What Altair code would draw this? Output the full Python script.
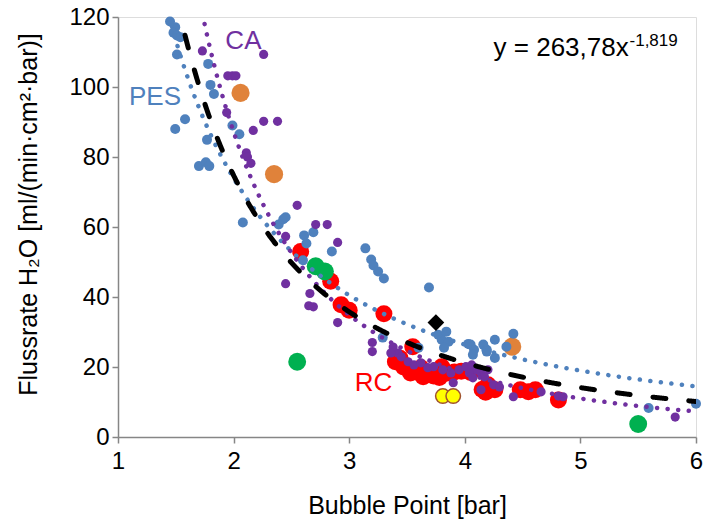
import altair as alt
import pandas as pd

# ---------------- data ----------------
pes_x = [1.45, 1.495, 1.48, 1.51, 1.54, 1.51, 1.78, 1.80, 1.83, 1.58, 1.495, 1.99, 2.05, 1.77,
         1.70, 1.76, 1.79, 2.08, 2.39, 2.43, 2.45, 2.61, 2.69, 2.63, 2.85, 3.14, 3.19, 3.21,
         3.25, 3.30, 3.69, 3.29, 3.60, 3.77, 3.84, 3.80, 3.86, 3.82, 4.03, 4.08, 4.16, 4.19,
         4.05, 4.07, 4.26, 4.42, 4.36, 4.26, 4.19, 5.59, 6.00, 2.60]
pes_y = [118.7, 117.1, 115.5, 114.7, 114.2, 109.3, 106.6, 100.6, 98.0, 90.8, 88.0, 89.0, 86.5, 84.9,
         77.4, 78.5, 77.4, 61.3, 60.7, 62.2, 62.8, 57.6, 58.5, 55.3, 53.0, 53.9, 50.7, 49.0,
         47.3, 45.3, 42.7, 28.4, 25.5, 29.2, 30.1, 27.8, 27.2, 25.5, 26.6, 24.9, 26.4, 24.9,
         26.4, 23.5, 27.8, 29.5, 25.8, 22.6, 24.4, 8.3, 9.5, 50.5]

ca_x = [1.73, 2.26, 1.95, 1.99, 2.02, 1.94, 2.26, 2.38, 2.17, 2.11, 2.12, 2.15, 2.55, 2.71,
        2.81, 2.45, 2.90, 2.45, 2.66, 2.65, 2.69, 2.90, 3.20, 3.20, 3.38, 3.42, 3.36, 3.45,
        3.51, 3.56, 3.62, 3.68, 3.73, 3.81, 3.88, 3.95, 4.01, 4.08, 4.14, 4.20, 4.17, 4.06,
        4.10, 4.04, 4.07, 4.14, 4.25, 4.30, 4.42, 4.66, 4.81, 4.85, 5.82, 3.90]
ca_y = [110.3, 109.3, 103.2, 103.2, 103.2, 92.7, 90.2, 90.2, 87.6, 81.2, 80.0, 78.2, 66.2, 60.7,
        60.7, 57.3, 55.6, 43.8, 41.0, 37.5, 37.2, 32.7, 27.0, 24.4, 25.7, 24.0, 24.0, 22.9,
        21.5, 20.6, 21.2, 19.8, 20.1, 19.2, 18.3, 19.2, 20.1, 19.8, 18.3, 19.2, 17.2, 20.6,
        19.2, 18.3, 16.9, 13.5, 14.9, 14.3, 11.5, 12.9, 11.7, 11.5, 5.7, 15.5]

rc_x = [2.58, 2.84, 2.93, 3.00, 3.30, 3.55, 3.40, 3.47, 3.53, 3.58, 3.62, 3.69, 3.73, 3.80,
        3.85, 3.91, 3.97, 4.05, 4.15, 4.20, 4.26, 4.18, 4.48, 4.55, 4.61, 4.81, 3.44, 3.64,
        3.78]
rc_y = [53.0, 44.5, 37.8, 36.2, 35.2, 25.8, 21.5, 20.0, 18.3, 18.6, 19.8, 18.3, 17.4, 20.1,
        18.3, 18.6, 18.8, 18.4, 13.6, 14.9, 13.5, 12.8, 13.5, 12.9, 13.5, 10.6, 22.5, 17.2,
        17.0]

orange_x = [2.06, 2.35, 4.41]
orange_y = [98.3, 75.1, 25.8]
green_x = [2.71, 2.79, 2.55, 5.50]
green_y = [48.8, 47.3, 21.5, 3.7]
yellow_x = [3.81, 3.90]
yellow_y = [11.7, 11.7]
diamond_x = [3.75]
diamond_y = [32.7]

# power trend lines y = a * x^b
all_fit = {"a": 263.78, "b": -1.819, "start": 1.58}
pes_fit = {"a": 207.0, "b": -1.485, "start": 1.40}
ca_fit = {"a": 417.0, "b": -2.258, "start": 1.70}

equation_main = "y = 263,78x"
equation_exp = "-1,819"

labels = ["CA", "PES", "RC"]
label_x = [2.085, 1.32, 3.21]
label_y = [113.2, 97.1, 15.5]

BLUE = "#4F81BD"
PURPLE = "#7030A0"
RED = "#FF0000"
ORANGE = "#E0823A"
GREEN = "#00B050"
FONT = "Liberation Sans"

x_axis = alt.Axis(values=[1, 2, 3, 4, 5, 6], format="d", grid=False, labelFlush=False,
                  title="Bubble Point [bar]", titleFontSize=25, titleFontWeight="normal",
                  titleFont=FONT, titleColor="#000", titleX=289, titleY=68,
                  titleBaseline="middle", titleAlign="center",
                  labelFont=FONT, labelFontSize=24, labelColor="#000", labelPadding=6,
                  tickSize=6, tickColor="#868686", tickWidth=1.5,
                  domainColor="#868686", domainWidth=1.5)
y_axis = alt.Axis(values=[0, 20, 40, 60, 80, 100, 120], format="d", grid=False,
                  labelFlush=False,
                  title="Flussrate H₂O [ml/(min·cm²·bar)]", titleFontSize=25,
                  titleFontWeight="normal", titleFont=FONT, titleColor="#000",
                  titleX=-90, titleY=197, titleAngle=-90, titleBaseline="middle",
                  titleAlign="center",
                  labelFont=FONT, labelFontSize=24, labelColor="#000", labelPadding=3,
                  tickSize=6, tickColor="#868686", tickWidth=1.5,
                  domainColor="#868686", domainWidth=1.5)

X = alt.X("x:Q", scale=alt.Scale(domain=[1, 6], nice=False, zero=False), axis=x_axis)
Y = alt.Y("y:Q", scale=alt.Scale(domain=[0, 120], nice=False), axis=y_axis)


def pts(xs, ys):
    return pd.DataFrame({"x": xs, "y": ys})


def points(xs, ys, color, size, shape="circle", stroke=None):
    kw = dict(shape=shape, size=size, filled=True, fill=color, opacity=1)
    if stroke:
        kw.update(stroke=stroke, strokeWidth=1.5)
    else:
        kw.update(strokeWidth=0)
    return alt.Chart(pts(xs, ys)).mark_point(**kw).encode(x=X, y=Y)


def trend(fit, color, width, dash):
    return (alt.Chart(alt.sequence(fit["start"], 6.0001, 0.005, as_="x"))
            .transform_calculate(y=f"{fit['a']} * pow(datum.x, {fit['b']})")
            .transform_filter("datum.y <= 121")
            .mark_line(color=color, strokeWidth=width, strokeDash=dash,
                       strokeCap="round", clip=True)
            .encode(x=X, y=Y, order="x:Q"))


layers = [
    points(rc_x, rc_y, RED, 290),
    points(orange_x, orange_y, ORANGE, 330),
    points(green_x, green_y, GREEN, 320),
    points(yellow_x, yellow_y, "#FFFF00", 210, stroke="#A0522D"),
    points(pes_x, pes_y, BLUE, 100),
    points(ca_x, ca_y, PURPLE, 84),
    points(diamond_x, diamond_y, "#000000", 280, shape="diamond"),
    trend(pes_fit, BLUE, 4.5, [0.1, 10.5]),
    trend(ca_fit, PURPLE, 4.5, [0.1, 10.5]),
    trend(all_fit, "#000000", 5, [13, 23]),
]

lab_df = pd.DataFrame({"x": label_x, "y": label_y, "t": labels,
                       "c": [PURPLE, BLUE, RED]})
text_layer = alt.Chart(lab_df).mark_text(font=FONT, fontSize=26, align="center",
                                         baseline="middle").encode(
    x=X, y=Y, text="t:N", color=alt.Color("c:N", scale=None))

eq_df = pd.DataFrame({"x": [5.418], "y": [108.9], "t": [equation_main]})
eq_layer = alt.Chart(eq_df).mark_text(font=FONT, fontSize=26, align="right",
                                      baseline="alphabetic", color="#000").encode(
    x=X, y=Y, text="t:N")
exp_df = pd.DataFrame({"x": [5.425], "y": [111.8], "t": [equation_exp]})
exp_layer = alt.Chart(exp_df).mark_text(font=FONT, fontSize=17, align="left",
                                        baseline="alphabetic", color="#000").encode(
    x=X, y=Y, text="t:N")

chart = alt.layer(*layers, text_layer, eq_layer, exp_layer).properties(
    width=578, height=420,
    autosize=alt.AutoSizeParams(type="none"),
    padding={"left": 118, "top": 17, "right": 9, "bottom": 87},
).configure_view(stroke="#000000", strokeWidth=1.5).configure(background="white")

chart.save("out.html", embed_options={"renderer": "svg", "actions": False})
